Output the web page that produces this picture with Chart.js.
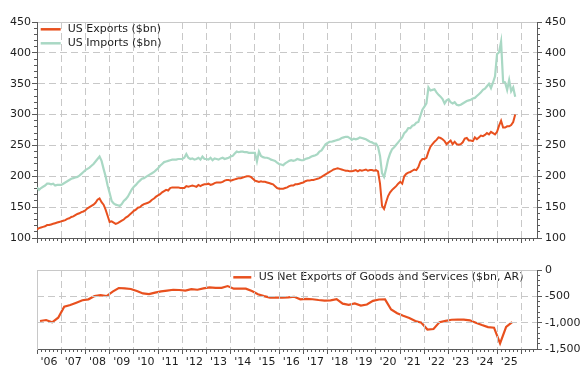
<!DOCTYPE html>
<html><head><meta charset="utf-8">
<script src="https://cdn.jsdelivr.net/npm/chart.js@4/dist/chart.umd.min.js"></script>
<style>
html,body{margin:0;padding:0;background:#fff;}
#wrap{position:relative;width:586px;height:377px;overflow:hidden;background:#fff;}
#bot{position:absolute;left:0;top:250px;z-index:1;}
#top{position:absolute;left:0;top:0;z-index:2;}
</style></head><body>
<div id="wrap">
<canvas id="bot" width="586" height="127"></canvas>
<canvas id="top" width="586" height="377"></canvas>
</div>
<script>
// ---------------- DATA ----------------
const START_YEAR = 2006;            // first month = Jan 2006
const exportsLabel = 'US Exports ($bn)';
const importsLabel = 'US Imports ($bn)';
const netLabel = 'US Net Exports of Goods and Services ($bn, AR)';

// monthly, Jan 2006 .. Oct 2025
const exportsBn = [
 114,116,117,118,119,121,121,122,123,124,125,126,
 127,128,129,131,132,134,135,137,139,140,142,143,
 145,148,150,152,154,157,162,164,158,154,146,136,
 126,127,125,123,124,126,128,130,133,135,138,141,
 144,146,149,150,153,155,156,157,159,162,164,167,
 169,171,174,176,178,177,181,182,182,182,182,181,
 181,181,184,183,184,185,184,183,186,184,186,187,
 187,188,186,187,189,190,190,190,191,193,194,194,
 193,194,195,196,197,197,198,199,200,200,199,196,
 193,192,191,192,191,191,190,189,188,187,184,181,
 180,180,180,181,182,184,185,185,187,187,188,189,
 190,192,193,193,194,194,195,196,197,199,201,203,
 205,207,209,211,212,213,212,211,210,209,209,208,
 208,209,210,208,210,209,210,211,209,210,210,209,
 210,208,188,152,147,158,168,174,178,181,184,188,
 191,188,200,204,206,207,209,211,210,215,224,228,
 228,230,240,248,252,256,259,263,262,260,257,252,
 255,258,252,256,252,251,252,255,261,262,258,258,
 257,263,260,263,266,265,267,270,268,272,270,268,
 272,282,290,279,279,281,281,283,288,300
];
const importsBn = [
 182,178,181,183,185,188,188,187,188,185,186,186,
 186,188,190,192,194,196,197,198,199,201,204,207,
 210,212,214,217,220,224,228,232,225,212,200,185,
 173,160,156,154,153,152,155,160,163,167,173,179,
 183,186,190,193,196,197,199,201,203,205,207,210,
 213,217,220,223,224,225,226,227,227,227,228,228,
 228,230,236,230,228,229,227,228,230,227,232,228,
 228,227,230,226,229,228,227,229,230,228,229,230,
 232,233,237,240,239,240,240,239,239,238,238,238,
 238,224,240,233,231,230,230,229,227,226,225,222,
 220,219,218,221,223,225,226,225,226,228,227,226,
 226,228,229,230,232,233,234,236,240,242,247,252,
 254,256,256,257,258,259,260,262,263,264,264,262,
 259,261,260,261,263,262,261,260,258,256,255,253,
 253,248,233,205,199,212,227,237,244,247,251,255,
 259,263,270,273,278,278,282,283,287,288,298,308,
 313,318,344,339,340,341,336,332,329,325,318,323,
 325,320,318,320,316,315,316,318,320,322,323,324,
 326,327,330,333,336,340,342,346,350,343,352,362,
 398,401,418,353,352,340,356,338,344,329
];
// quarterly, 2006Q1 .. 2025Q3
const netExportsBn = [
 -968,-950,-994,-905,
 -696,-665,-620,-575,
 -557,-495,-478,-494,
 -411,-342,-350,-360,
 -400,-445,-456,-430,
 -405,-390,-375,-380,
 -390,-365,-375,-350,
 -330,-338,-340,-305,
 -354,-354,-354,-400,
 -460,-495,-525,-525,
 -525,-520,-508,-557,
 -550,-555,-570,-580,
 -575,-555,-640,-660,
 -635,-675,-655,-585,
 -560,-557,-750,-820,
 -870,-910,-970,-1000,
 -1130,-1120,-990,-965,
 -945,-940,-943,-955,
 -1000,-1045,-1085,-1095,
 -1392,-1080,-990
];
const yearTickLabels = ["'06","'07","'08","'09","'10","'11","'12","'13","'14","'15","'16","'17","'18","'19","'20","'21","'22","'23","'24","'25"];
const netGridValues = [-500, -1000];

// ---------------- STYLE ----------------
const TEXT = '#1e1e1e', AXIS = '#5a5a5a', GRID = '#c8c8c8';
const DASH_ON = 7, DASH_OFF = 4;
const EXP_COLOR = '#e8501e', IMP_COLOR = '#a9d8c4';
const X_MIN = 2006, X_MAX = 2026.65;
const BOTTOM_OFFSET = 250;   // page offset of the lower canvas
Chart.defaults.font.family = '"DejaVu Sans", sans-serif';
Chart.defaults.font.size = 11;
Chart.defaults.color = TEXT;

const monthPts = arr => arr.map((v, i) => ({x: START_YEAR + i / 12, y: v}));
const quarterPts = arr => arr.map((v, i) => ({x: START_YEAR + (i + 0.5) / 4, y: v}));

const range = (a, b, step) => { const r = []; for (let k = 0; a + k * step <= b + 1e-9; k++) r.push(+(a + k * step).toFixed(6)); return r; };
const setTicks = vals => s => { s.ticks = vals.filter(v => v >= s.min - 1e-9 && v <= s.max + 1e-9).map(v => ({value: v})); };
const setW = n => s => { s.width = n; };
const setH = n => s => { s.height = n; };
const hideAt = edges => c => (c.tick && edges.includes(c.tick.value)) ? 'rgba(0,0,0,0)' : GRID;

const yearLines = range(2006, 2026, 1);
const innerYearLines = range(2007, 2026, 1);
const minorX = range(2006, 2026.65, 1 / 6);
const labelX = yearTickLabels.map((l, k) => 2006.5 + k);

const legendPlugin = {
  id: 'inlineLegend',
  afterDatasetsDraw(chart, args, o) {
    const ctx = chart.ctx, a = chart.chartArea;
    ctx.save();
    ctx.font = '11px "DejaVu Sans", sans-serif';
    ctx.textBaseline = 'middle';
    ctx.textAlign = 'left';
    chart.data.datasets.forEach((ds, i) => {
      const y = a.top + o.dy + i * o.rowH, x = a.left + o.dx;
      ctx.strokeStyle = ds.borderColor; ctx.lineWidth = 2.5;
      ctx.beginPath(); ctx.moveTo(x, y); ctx.lineTo(x + o.w, y); ctx.stroke();
      ctx.fillStyle = TEXT;
      ctx.fillText(ds.label, x + o.w + o.gap, y);
    });
    ctx.restore();
  }
};

const minorXAxis = () => ({type: 'linear', position: 'bottom', min: X_MIN, max: X_MAX, weight: 0,
  afterBuildTicks: setTicks(minorX), afterFit: setH(0),
  ticks: {display: false},
  grid: {drawOnChartArea: false, tickLength: 3, tickColor: AXIS, tickWidth: 1},
  border: {display: false}});
const majorXAxis = onArea => ({type: 'linear', position: 'bottom', min: X_MIN, max: X_MAX, weight: 1,
  afterBuildTicks: setTicks(yearLines), afterFit: setH(0),
  ticks: {display: false},
  grid: {drawOnChartArea: onArea, color: hideAt([2006]), lineWidth: 1, tickLength: 5, tickColor: AXIS, tickWidth: 1},
  border: {display: true, color: AXIS, width: 1, dash: [DASH_ON, DASH_OFF]}});
const topBorderAxis = () => ({type: 'linear', position: 'top', min: X_MIN, max: X_MAX,
  afterFit: setH(0), ticks: {display: false}, grid: {display: false},
  border: {display: true, color: GRID, width: 1}});
const minorYAxis = (pos, lo, hi, step) => ({type: 'linear', position: pos, min: lo, max: hi, weight: 0, afterFit: setW(0),
  afterBuildTicks: setTicks(range(lo, hi, step)),
  ticks: {display: false}, grid: {drawOnChartArea: false, tickLength: 3, tickColor: AXIS},
  border: {display: false}});

// ---------------- LOWER CHART (created first so its scales exist) ----------------
const lowerChart = new Chart(document.getElementById('bot'), {
  type: 'line',
  data: {datasets: [
    {label: netLabel, data: quarterPts(netExportsBn), borderColor: EXP_COLOR, borderWidth: 2.2, pointRadius: 0, tension: 0, xAxisID: 'x', yAxisID: 'yR'}
  ]},
  options: {
    responsive: false, animation: false, devicePixelRatio: 1,
    layout: {padding: {top: 20, bottom: 0, left: 0, right: 0}},
    plugins: {legend: {display: false}, tooltip: {enabled: false},
      inlineLegend: {dx: 196.3, dy: 7.3, rowH: 14, w: 18, gap: 7.5}},
    scales: {
      x: majorXAxis(false),
      xMinor: minorXAxis(),
      xLab: {type: 'linear', position: 'bottom', min: X_MIN, max: X_MAX, weight: 2, afterFit: setH(28),
        afterBuildTicks: setTicks(labelX),
        ticks: {autoSkip: false, maxRotation: 0, minRotation: 0, padding: 7, color: TEXT,
          callback: (v, i) => yearTickLabels[i]},
        grid: {display: false, drawTicks: false}, border: {display: false}},
      xTop: topBorderAxis(),
      y: {type: 'linear', position: 'left', min: -1500, max: 0, weight: 1, afterFit: setW(37),
        ticks: {display: false, stepSize: 500},
        grid: {drawOnChartArea: false, drawTicks: false},
        border: {display: true, color: GRID}},
      yR: {type: 'linear', position: 'right', min: -1500, max: 0, weight: 1, afterFit: setW(49),
        ticks: {stepSize: 500, padding: 3, color: TEXT, callback: v => v.toLocaleString('en-US')},
        grid: {drawOnChartArea: false, tickLength: 5, tickColor: AXIS},
        border: {display: true, color: AXIS}},
      yRMinor: minorYAxis('right', -1500, 0, 100)
    }
  },
  plugins: [legendPlugin]
});

// lower-panel dashed grid, placed from the lower chart's own scales
const lowerGridPlugin = {
  id: 'lowerGrid',
  beforeDatasetsDraw(chart) {
    const ctx = chart.ctx, b = lowerChart, a = b.chartArea;
    const xs = b.scales.x, ys = b.scales.yR, off = BOTTOM_OFFSET;
    ctx.save();
    ctx.strokeStyle = GRID; ctx.lineWidth = 1; ctx.setLineDash([]);
    ctx.beginPath();
    innerYearLines.forEach(v => {
      const px = Math.round(xs.getPixelForValue(v) - 0.5) + 0.5;
      for (let y = a.top; y < a.bottom; y += DASH_ON + DASH_OFF) {
        ctx.moveTo(px, y + off); ctx.lineTo(px, Math.min(y + DASH_ON, a.bottom) + off);
      }
    });
    netGridValues.forEach(v => {
      const py = Math.round(ys.getPixelForValue(v) - 0.5) + 0.5 + off;
      for (let x = a.left; x < a.right; x += DASH_ON + DASH_OFF) {
        ctx.moveTo(x, py); ctx.lineTo(Math.min(x + DASH_ON, a.right), py);
      }
    });
    ctx.stroke();
    ctx.restore();
  }
};

// ---------------- UPPER CHART ----------------
new Chart(document.getElementById('top'), {
  type: 'line',
  data: {datasets: [
    {label: exportsLabel, data: monthPts(exportsBn), borderColor: EXP_COLOR, borderWidth: 2, pointRadius: 0, tension: 0, xAxisID: 'x', yAxisID: 'y'},
    {label: importsLabel, data: monthPts(importsBn), borderColor: IMP_COLOR, borderWidth: 2.2, pointRadius: 0, tension: 0, xAxisID: 'x', yAxisID: 'y'}
  ]},
  options: {
    responsive: false, animation: false, devicePixelRatio: 1,
    layout: {padding: {top: 22, bottom: 139, left: 0, right: 0}},
    plugins: {legend: {display: false}, tooltip: {enabled: false},
      inlineLegend: {dx: 3.7, dy: 7.3, rowH: 14, w: 20, gap: 7}},
    scales: {
      x: majorXAxis(true),
      xMinor: minorXAxis(),
      xTop: topBorderAxis(),
      y: {type: 'linear', position: 'left', min: 100, max: 450, weight: 1, afterFit: setW(37),
        ticks: {stepSize: 50, padding: 1, color: TEXT},
        grid: {color: hideAt([100, 450]), tickLength: 5, tickColor: AXIS},
        border: {display: true, color: AXIS, dash: [DASH_ON, DASH_OFF]}},
      yMinor: minorYAxis('left', 100, 450, 10),
      yR: {type: 'linear', position: 'right', min: 100, max: 450, weight: 1, afterFit: setW(49),
        ticks: {stepSize: 50, padding: 3, color: TEXT},
        grid: {drawOnChartArea: false, tickLength: 5, tickColor: AXIS},
        border: {display: true, color: AXIS}},
      yRMinor: minorYAxis('right', 100, 450, 10)
    }
  },
  plugins: [lowerGridPlugin, legendPlugin]
});
</script>
</body></html>
